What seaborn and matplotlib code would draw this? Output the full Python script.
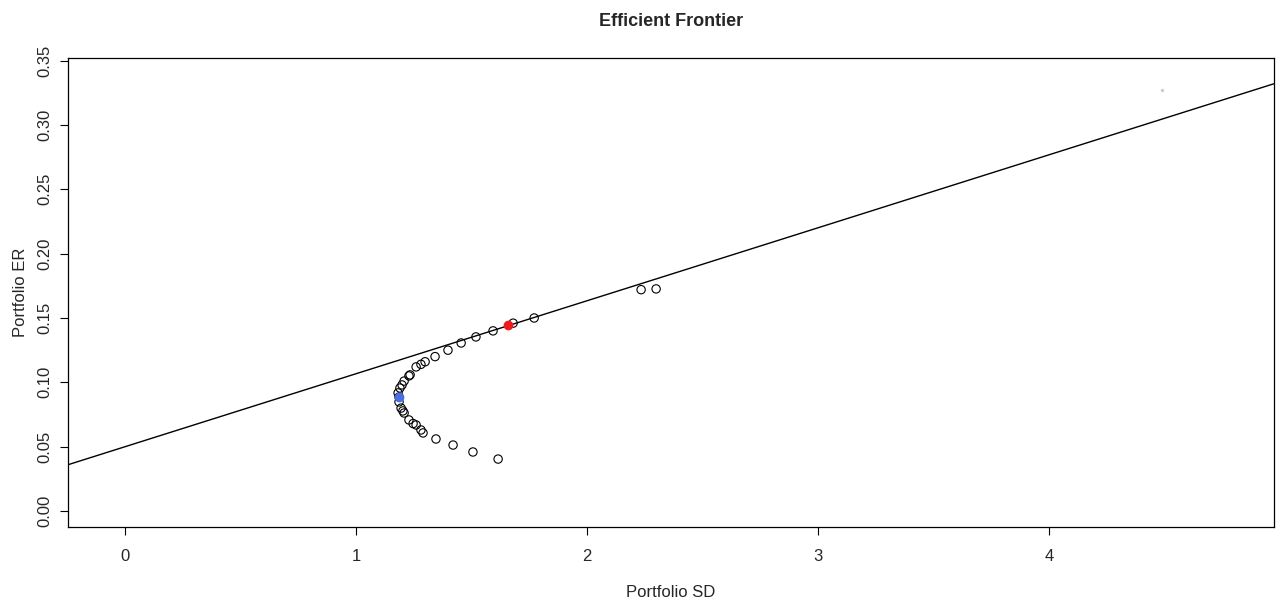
import matplotlib
matplotlib.use("Agg")
import matplotlib.pyplot as plt
import seaborn as sns
import pandas as pd

# simulated portfolios (SD, ER)
port_sd = [2.299, 2.234, 1.771, 1.680, 1.593, 1.519, 1.455, 1.398, 1.342, 1.299,
           1.281, 1.260, 1.234, 1.229, 1.208, 1.199, 1.190, 1.182, 1.186, 1.186,
           1.195, 1.203, 1.208, 1.229, 1.247, 1.260, 1.281, 1.290, 1.346, 1.420,
           1.506, 1.615]
port_er = [0.1726, 0.1720, 0.1500, 0.1460, 0.1400, 0.1353, 0.1306, 0.1250, 0.1200, 0.1160,
           0.1140, 0.1120, 0.1058, 0.1050, 0.1010, 0.0980, 0.0956, 0.0918, 0.0886, 0.0848,
           0.0800, 0.0778, 0.0762, 0.0708, 0.0680, 0.0669, 0.0630, 0.0607, 0.0560, 0.0513,
           0.0459, 0.0404]

# tangency and minimum variance portfolios
tangent_sd, tangent_er = 1.658, 0.1442
minvar_sd, minvar_er = 1.186, 0.0886

# capital market line
risk_free = 0.05
cml_slope = 0.0567

# stray faint point top right
stray_sd, stray_er = 4.49, 0.327

df = pd.DataFrame({'sd': port_sd, 'er': port_er})

sns.set_style("white")
plt.rcParams['font.family'] = ['Liberation Sans Narrow', 'Liberation Sans', 'DejaVu Sans']

fig = plt.figure(figsize=(12.78, 6.03), dpi=100)
ax = fig.add_axes([0.0532, 0.126, 0.9437, 0.7778])

ax.axline((0, risk_free), slope=cml_slope, color='black', linewidth=1.0, zorder=1)

sns.scatterplot(x='sd', y='er', data=df, ax=ax, marker='o', s=36,
                facecolors='none', edgecolor='black', linewidth=0.8, zorder=2)
ax.scatter([minvar_sd], [minvar_er], s=36, color='#4a6fe0', edgecolor='#4a6fe0', zorder=3)
ax.scatter([tangent_sd], [tangent_er], s=36, color='#ee1c1c', edgecolor='#ee1c1c', zorder=3)
ax.scatter([stray_sd], [stray_er], s=2, color='#cccccc', zorder=1)

ax.set_xlim(-0.247, 4.974)
ax.set_ylim(-0.0124, 0.352)
ax.set_xticks([0, 1, 2, 3, 4])
ax.set_yticks([0.00, 0.05, 0.10, 0.15, 0.20, 0.25, 0.30, 0.35])
ax.set_yticklabels(['0.00', '0.05', '0.10', '0.15', '0.20', '0.25', '0.30', '0.35'],
                   rotation=90, va='center')

for s in ax.spines.values():
    s.set_visible(True)
    s.set_color('black')
    s.set_linewidth(0.9)

ax.tick_params(axis='both', direction='out', length=6, width=0.8, color='black',
               labelsize=12, left=True, bottom=True)
ax.tick_params(axis='x', pad=10)
ax.tick_params(axis='y', pad=5)

ax.set_xlabel('Portfolio SD', fontsize=12, labelpad=15)
ax.set_ylabel('Portfolio ER', fontsize=12, labelpad=7)
ax.set_title('Efficient Frontier', fontsize=13, fontweight='bold', pad=23)

plt.savefig('out.png', dpi=100)
plt.close()
